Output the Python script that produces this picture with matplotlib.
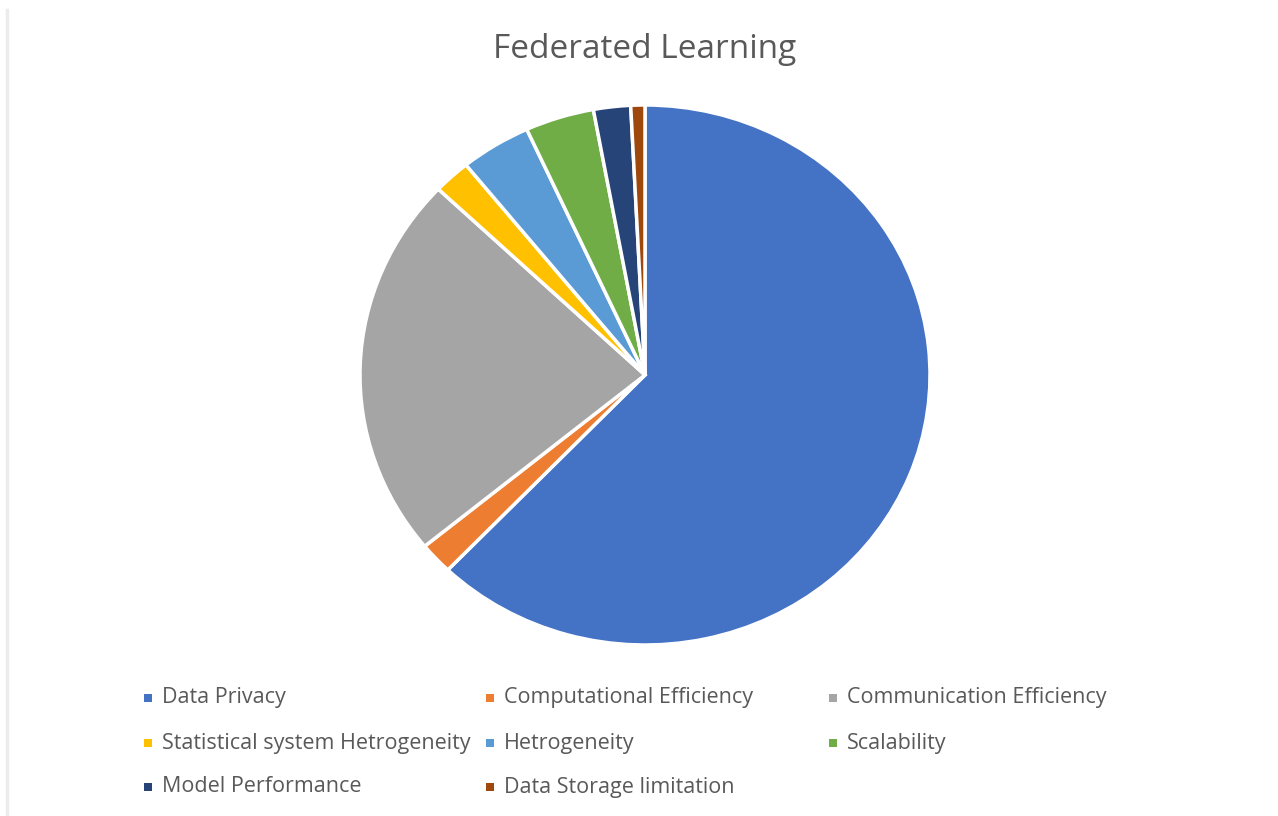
import matplotlib
matplotlib.use('Agg')
import matplotlib.pyplot as plt
from matplotlib.patches import Rectangle
from matplotlib.lines import Line2D

categories = ['Data Privacy', 'Computational Efficiency', 'Communication Efficiency',
              'Statistical system Hetrogeneity', 'Hetrogeneity', 'Scalability',
              'Model Performance', 'Data Storage limitation']
shares = [62.1, 1.9, 23.0, 2.1, 4.0, 3.9, 2.1, 0.8]
colors = ['#4472C4', '#ED7D31', '#A5A5A5', '#FFC000',
          '#5B9BD5', '#70AD47', '#264478', '#9E480E']

W, H = 1278, 816
fig = plt.figure(figsize=(W / 100, H / 100), dpi=100)
fig.patch.set_facecolor('white')

FONT = 'Open Sans'
TEXT_COLOR = '#595959'

# pie is a little wider than tall in the reference
cx, cy, rx, ry = 645, 375, 285, 270
ax = fig.add_axes([(cx - rx) / W, (H - cy - ry) / H, 2 * rx / W, 2 * ry / H])
ax.pie(shares, colors=colors, startangle=90, counterclock=False,
       wedgeprops=dict(edgecolor='white', linewidth=2.5))
ax.set_aspect('auto')
ax.set_xlim(-1, 1)
ax.set_ylim(-1, 1)
ax.axis('off')

fig.text(cx / W, 1 - 49 / H, 'Federated Learning', ha='center', va='center',
         fontsize=24, color=TEXT_COLOR, family=FONT)

# legend laid out like Excel: equal-width columns
col_x = [148, 490, 833]
row_y = [698, 743, 787]
for i, (name, col) in enumerate(zip(categories, colors)):
    x = col_x[i % 3]
    y = row_y[i // 3]
    fig.patches.append(Rectangle(((x - 4) / W, 1 - (y + 4) / H), 8 / W, 8 / H,
                                 transform=fig.transFigure, facecolor=col,
                                 edgecolor='none'))
    fig.text((x + 14) / W, 1 - y / H, name, ha='left', va='center',
             fontsize=15.5, color=TEXT_COLOR, family=FONT)

# faint border line at the left edge
fig.add_artist(Line2D([6.5 / W, 6.5 / W], [1 - 10 / H, 0], transform=fig.transFigure,
                      color='#ececec', linewidth=2.5))

fig.savefig('out.png', dpi=100)
